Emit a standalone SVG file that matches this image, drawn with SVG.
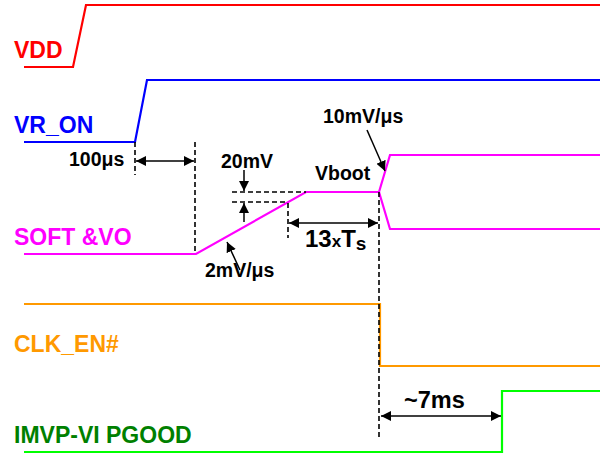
<svg xmlns="http://www.w3.org/2000/svg" width="604" height="454" viewBox="0 0 604 454">
<defs>
<marker id="ah" viewBox="0 0 10 10" refX="10" refY="5" markerWidth="10" markerHeight="10" markerUnits="userSpaceOnUse" orient="auto-start-reverse">
<path d="M0,0 L10,5 L0,10 z" fill="#000"/>
</marker>
<style>
.sig{fill:none;stroke-width:2.2;stroke-linejoin:miter}
.lbl{font-family:"Liberation Sans",Arial,sans-serif;font-weight:bold;font-size:23px}
.sm{font-family:"Liberation Sans",Arial,sans-serif;font-weight:bold;font-size:19.5px;fill:#000}
.dash{fill:none;stroke:#000;stroke-width:1.6;stroke-dasharray:5,3}
.arr{fill:none;stroke:#000;stroke-width:1.5}
</style>
</defs>
<rect width="604" height="454" fill="#fff"/>
<g id="VDD">
<path class="sig" stroke="#ff0000" d="M24,67 H73 L86,5 H600"/>
<text class="lbl" x="14" y="58" fill="#ff0000">VDD</text>
</g>
<g id="VR_ON">
<path class="sig" stroke="#0000ff" d="M24,142 H135 L147,80 H600"/>
<text class="lbl" x="14" y="133" fill="#0000ff">VR_ON</text>
</g>
<g id="SOFT_VO">
<path class="sig" stroke="#ff00ff" d="M24,254 H196 L306,192 H379 L390,155 H600"/>
<path class="sig" stroke="#ff00ff" d="M379,192 L390,229 H600"/>
<text class="lbl" x="14" y="245" fill="#ff00ff">SOFT &amp;VO</text>
</g>
<g id="CLK_EN">
<path class="sig" stroke="#ff9900" d="M24,304 H380 V366 H600"/>
<text class="lbl" x="14" y="352" fill="#ff9900">CLK_EN#</text>
</g>
<g id="PGOOD">
<path class="sig" stroke="#00ff00" d="M24,452 H502 V391 H600"/>
<text class="lbl" x="14" y="443" fill="#008000">IMVP-VI PGOOD</text>
</g>
<g id="connectors">
<line class="dash" x1="135" y1="142" x2="135" y2="175"/>
<line class="dash" x1="195" y1="142" x2="195" y2="253"/>
<line class="dash" x1="232" y1="192" x2="306" y2="192"/>
<line class="dash" x1="232" y1="202" x2="288" y2="202"/>
<line class="dash" x1="288" y1="203" x2="288" y2="238"/>
<line class="dash" x1="379" y1="192" x2="379" y2="440"/>
<line class="arr" x1="136" y1="161" x2="194" y2="161" marker-start="url(#ah)" marker-end="url(#ah)"/>
<line class="arr" x1="244" y1="170" x2="244" y2="191" marker-end="url(#ah)"/>
<line class="arr" x1="244" y1="222" x2="244" y2="203" marker-end="url(#ah)"/>
<line class="arr" x1="289" y1="223" x2="378" y2="223" marker-start="url(#ah)" marker-end="url(#ah)"/>
<line class="arr" x1="240" y1="270" x2="227" y2="242" marker-end="url(#ah)"/>
<line class="arr" x1="367" y1="130" x2="385" y2="171" marker-end="url(#ah)"/>
<line class="arr" x1="381" y1="416" x2="501" y2="416" marker-start="url(#ah)" marker-end="url(#ah)"/>
</g>
<g id="labels">
<text class="sm" x="69" y="166">100μs</text>
<text class="sm" x="221" y="168">20mV</text>
<text class="sm" x="205" y="277">2mV/μs</text>
<text class="sm" x="315" y="180">Vboot</text>
<text class="sm" x="323" y="123">10mV/μs</text>
<text class="sm" x="404" y="408" style="font-size:23.5px">~7ms</text>
<text class="sm" x="305" y="247"><tspan font-size="24">13</tspan><tspan font-size="17">x</tspan><tspan font-size="24">T</tspan><tspan font-size="19" dy="3">s</tspan></text>
</g>
</svg>
